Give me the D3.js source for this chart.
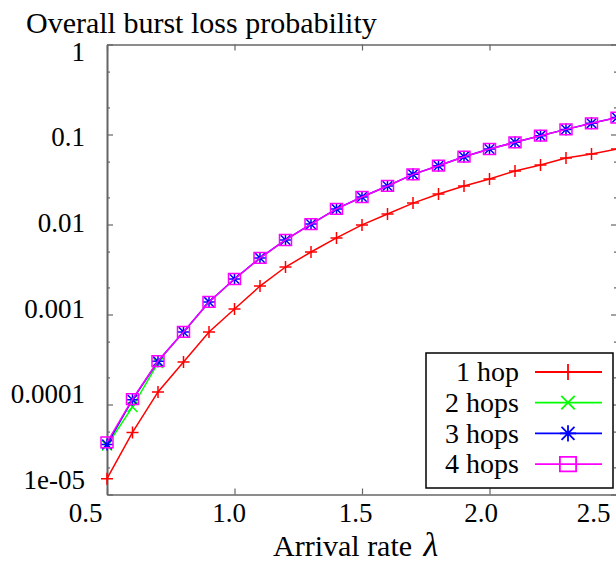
<!DOCTYPE html>
<html>
<head>
<meta charset="utf-8">
<script src="https://cdn.jsdelivr.net/npm/d3@7"></script>
<style>
body { margin: 0; background: #fff; }
text { font-family: "Liberation Serif", "Times New Roman", serif; fill: #000; }
</style>
</head>
<body>
<div id="chart"></div>
<script>
// arrival rates (x) and loss probabilities
var rates = [0.5, 0.6, 0.7, 0.8, 0.9, 1.0, 1.1, 1.2, 1.3, 1.4, 1.5, 1.6, 1.7, 1.8, 1.9, 2.0, 2.1, 2.2, 2.3, 2.4, 2.5]

var hop1 = [1.5e-5, 4.9e-5, 1.38e-4, 2.97e-4, 6.4e-4, 1.15e-3, 2.07e-3, 3.37e-3, 4.95e-3, 7.1e-3, 9.9e-3,
	1.31e-2, 1.73e-2, 2.18e-2, 2.68e-2, 3.2e-2, 3.93e-2, 4.58e-2, 5.48e-2, 6.07e-2, 6.9e-2]
var hop2 = [3.5e-5, 9.4e-5, 2.9e-4]
var hop3 = [3.6e-5, 1.13e-4, 3.02e-4, 6.4e-4, 1.38e-3, 2.48e-3, 4.25e-3, 6.73e-3, 1.01e-2, 1.49e-2, 2.02e-2,
	2.68e-2, 3.61e-2, 4.5e-2, 5.67e-2, 6.9e-2, 8.19e-2, 9.7e-2, 0.114, 0.133, 0.154]
var hop4 = [3.8e-5, 1.15e-4, 3.04e-4, 6.4e-4, 1.38e-3, 2.48e-3, 4.25e-3, 6.73e-3, 1.01e-2, 1.49e-2, 2.02e-2,
	2.68e-2, 3.61e-2, 4.5e-2, 5.67e-2, 6.9e-2, 8.19e-2, 9.7e-2, 0.114, 0.133, 0.154]

var seriesNames = ["1 hop", "2 hops", "3 hops", "4 hops"]
var seriesColors = ["#ff0000", "#00ff00", "#0000ff", "#ff00ff"]
var seriesMarks = ["plus", "cross", "star", "box"]

var xTicks = [0.5, 1.0, 1.5, 2.0, 2.5]
var yTicks = [1, 0.1, 0.01, 0.001, 0.0001, 0.00001]
var yTickLabels = ["1", "0.1", "0.01", "0.001", "0.0001", "1e-05"]
var yMinor = [0.5, 0.2, 0.05, 0.02, 0.005, 0.002, 0.0005, 0.0002, 0.00005, 0.00002]

var width = 616, height = 565
var plot = {left: 107, right: 617, top: 44.5, bottom: 494.5}

var svg = d3.select("#chart").append("svg")
	.attr("width", width)
	.attr("height", height)

var x = d3.scaleLinear().domain([0.5, 2.5]).range([plot.left, plot.right])
var y = d3.scaleLog().domain([1e-5, 1]).range([plot.bottom, plot.top])

var axisColor = "#666"

function styleAxis(g){
	g.select(".domain").attr("stroke", axisColor).attr("stroke-width", 1.6)
	g.selectAll(".tick line").attr("stroke", axisColor).attr("stroke-width", 1.2)
	g.selectAll(".tick text").style("font-size", "27px").attr("fill", "#000")
		.style("font-family", "'Liberation Serif', 'Times New Roman', serif")
}

// frame: ticks point inward on every side
var gLeft = svg.append("g").attr("transform", "translate(" + plot.left + ",0)")
	.call(d3.axisLeft(y).tickValues(yTicks).tickSize(-6).tickSizeOuter(0).tickPadding(22)
		.tickFormat(function(d, i){ return yTickLabels[i] }))
gLeft.call(styleAxis)
// labels in the picture drift upward towards the bottom
gLeft.selectAll(".tick text").attr("dy", function(d, i){ return (0.32 + (7 - 4.3 * i) / 27) + "em" })

svg.append("g").attr("transform", "translate(" + plot.left + ",0)")
	.call(d3.axisLeft(y).tickValues(yMinor).tickSize(-3).tickSizeOuter(0).tickFormat(""))
	.call(styleAxis)

svg.append("g").attr("transform", "translate(" + plot.right + ",0)")
	.call(d3.axisRight(y).tickValues(yTicks).tickSize(-6).tickSizeOuter(0).tickFormat(""))
	.call(styleAxis)
svg.append("g").attr("transform", "translate(" + plot.right + ",0)")
	.call(d3.axisRight(y).tickValues(yMinor).tickSize(-3).tickSizeOuter(0).tickFormat(""))
	.call(styleAxis)

var gBottom = svg.append("g").attr("transform", "translate(0," + plot.bottom + ")")
	.call(d3.axisBottom(x).tickValues(xTicks).tickSize(-6).tickSizeOuter(0).tickPadding(8)
		.tickFormat(d3.format(".1f")))
gBottom.call(styleAxis)
var xLabelShift = [-22, -6, -7, -9, -24]
gBottom.selectAll(".tick text").attr("dx", function(d, i){ return xLabelShift[i] })

svg.append("g").attr("transform", "translate(0," + plot.top + ")")
	.call(d3.axisTop(x).tickValues(xTicks).tickSize(-6).tickSizeOuter(0).tickFormat(""))
	.call(styleAxis)

// titles
svg.append("text").text("Overall burst loss probability")
	.attr("x", 26).attr("y", 33).style("font-size", "30px")

var xTitle = svg.append("text").attr("x", 273).attr("y", 556).style("font-size", "30px")
xTitle.append("tspan").text("Arrival rate ")
xTitle.append("tspan").text("λ").style("font-style", "italic").style("font-size", "34px").attr("dx", 4)

// marker shapes as path strings centred on 0,0
function markPath(kind, s){
	if(kind == "plus") return "M" + (-s) + ",0H" + s + "M0," + (-s) + "V" + s
	if(kind == "cross") return "M" + (-s) + "," + (-s) + "L" + s + "," + s + "M" + (-s) + "," + s + "L" + s + "," + (-s)
	if(kind == "star"){
		var k = s * 0.8
		return "M" + (-s) + ",0H" + s + "M0," + (-s) + "V" + s +
			"M" + (-k) + "," + (-k) + "L" + k + "," + k + "M" + (-k) + "," + k + "L" + k + "," + (-k)
	}
	return "M" + (-s) + "," + (-s * 0.9) + "H" + s + "V" + (s * 0.9) + "H" + (-s) + "Z"
}

var line = d3.line()
	.x(function(d){ return x(d.x) })
	.y(function(d){ return y(d.y) })

var allSeries = [hop1, hop2, hop3, hop4]
var markSize = [6, 5, 6, 6]

allSeries.forEach(function(vals, si){
	var pts = vals.map(function(v, i){ return {x: rates[i], y: v} })
	svg.append("path")
		.datum(pts)
		.attr("d", line)
		.attr("fill", "none")
		.attr("stroke", seriesColors[si])
		.attr("stroke-width", 1.5)
	svg.selectAll(".mark" + si)
		.data(pts)
		.enter()
		.append("path")
		.attr("class", "mark" + si)
		.attr("transform", function(d){ return "translate(" + x(d.x) + "," + y(d.y) + ")" })
		.attr("d", markPath(seriesMarks[si], markSize[si]))
		.attr("fill", "none")
		.attr("stroke", seriesColors[si])
		.attr("stroke-width", 1.5)
})

// legend
var legend = svg.append("g")
legend.append("rect")
	.attr("x", 426).attr("y", 353).attr("width", 187).attr("height", 135)
	.attr("fill", "#fff").attr("stroke", "#000").attr("stroke-width", 1.5)

var rows = legend.selectAll(".row")
	.data(seriesNames)
	.enter()
	.append("g")
	.attr("class", "row")
	.attr("transform", function(d, i){ return "translate(0," + (372 + i * 30.7) + ")" })

rows.append("text")
	.text(function(d){ return d })
	.attr("x", 519).attr("y", 0).attr("dy", "0.33em")
	.attr("text-anchor", "end")
	.style("font-size", "28px")
rows.append("line")
	.attr("x1", 535).attr("x2", 602).attr("y1", 0).attr("y2", 0)
	.attr("stroke", function(d, i){ return seriesColors[i] })
	.attr("stroke-width", 1.8)
rows.append("path")
	.attr("transform", "translate(568,0)")
	.attr("d", function(d, i){ return markPath(seriesMarks[i], markSize[i] * 1.35) })
	.attr("fill", "none")
	.attr("stroke", function(d, i){ return seriesColors[i] })
	.attr("stroke-width", 1.8)
</script>
</body>
</html>
